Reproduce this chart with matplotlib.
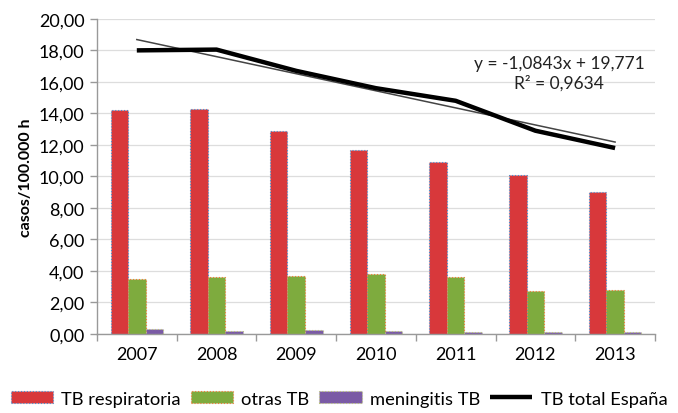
import numpy as np
import matplotlib.pyplot as plt

plt.rcParams['font.family'] = ['Lato', 'DejaVu Sans']

# Data
years = ["2007", "2008", "2009", "2010", "2011", "2012", "2013"]
tb_respiratoria = [14.2, 14.3, 12.9, 11.7, 10.9, 10.1, 9.0]
otras_tb = [3.5, 3.6, 3.7, 3.8, 3.6, 2.7, 2.8]
meningitis_tb = [0.3, 0.2, 0.25, 0.2, 0.15, 0.15, 0.1]
tb_total = [18.0, 18.05, 16.7, 15.6, 14.8, 12.9, 11.8]
trend_slope = -1.0843
trend_intercept = 19.771
r2 = 0.9634

x = np.arange(len(years))
w = 0.22

fig = plt.figure(figsize=(6.78, 4.14), dpi=100)
ax = fig.add_axes([0.143, 0.191, 0.823, 0.761])

b1 = ax.bar(x - w, tb_respiratoria, w, color="#d8383b", edgecolor="#4a90d0",
            linestyle=":", linewidth=0.8, label="TB respiratoria", zorder=2)
b2 = ax.bar(x, otras_tb, w, color="#7eab3e", edgecolor="#f07a3a",
            linestyle=":", linewidth=0.8, label="otras TB", zorder=2)
b3 = ax.bar(x + w, meningitis_tb, w, color="#7a5aa5", edgecolor="#b9c47a",
            linestyle=":", linewidth=0.8, label="meningitis TB", zorder=2)

l1, = ax.plot(x, tb_total, color="black", linewidth=3.2, label="TB total España",
              zorder=4, solid_capstyle="butt")

# linear trend (x = 1..7 as in the spreadsheet)
xt = x + 1
ax.plot(x, trend_slope * xt + trend_intercept, color="#444444",
        linewidth=1.1, zorder=3)

eq = "y = -1,0843x + 19,771\nR² = 0,9634"
ax.text(5.3, 16.55, eq, ha="center", va="center", fontsize=12.5,
        linespacing=1.25, color="#222222")

ax.set_xlim(-0.5, 6.5)
ax.set_ylim(0, 20)
ax.set_yticks(np.arange(0, 21, 2))
ax.set_yticklabels([f"{v:.2f}".replace(".", ",") for v in np.arange(0, 21, 2)],
                   fontsize=13)
ax.set_xticks(x)
ax.set_xticklabels(years, fontsize=13)
ax.set_xticks(np.arange(-0.5, 7, 1), minor=True)
ax.tick_params(axis="x", which="major", length=0, pad=9)
ax.tick_params(axis="x", which="minor", length=5, color="#999999", width=1)
ax.tick_params(axis="y", length=5, color="#999999", width=1, pad=4)

ax.grid(axis="y", color="#dddddd", linewidth=0.9, zorder=0)
ax.set_axisbelow(True)
for s in ["top", "right"]:
    ax.spines[s].set_visible(False)
for s in ["left", "bottom"]:
    ax.spines[s].set_color("#999999")
    ax.spines[s].set_linewidth(1)

ax.set_ylabel("casos/100.000 h", fontsize=11.5, fontweight="bold", labelpad=4)

fig.legend([b1, b2, b3, l1],
           ["TB respiratoria", "otras TB", "meningitis TB", "TB total España"],
           loc="center", bbox_to_anchor=(0.5, 0.035), ncol=4,
           frameon=False, fontsize=13.2, handlelength=2.3, handleheight=0.65,
           columnspacing=0.55, handletextpad=0.45)

fig.savefig("out.png", dpi=100)
